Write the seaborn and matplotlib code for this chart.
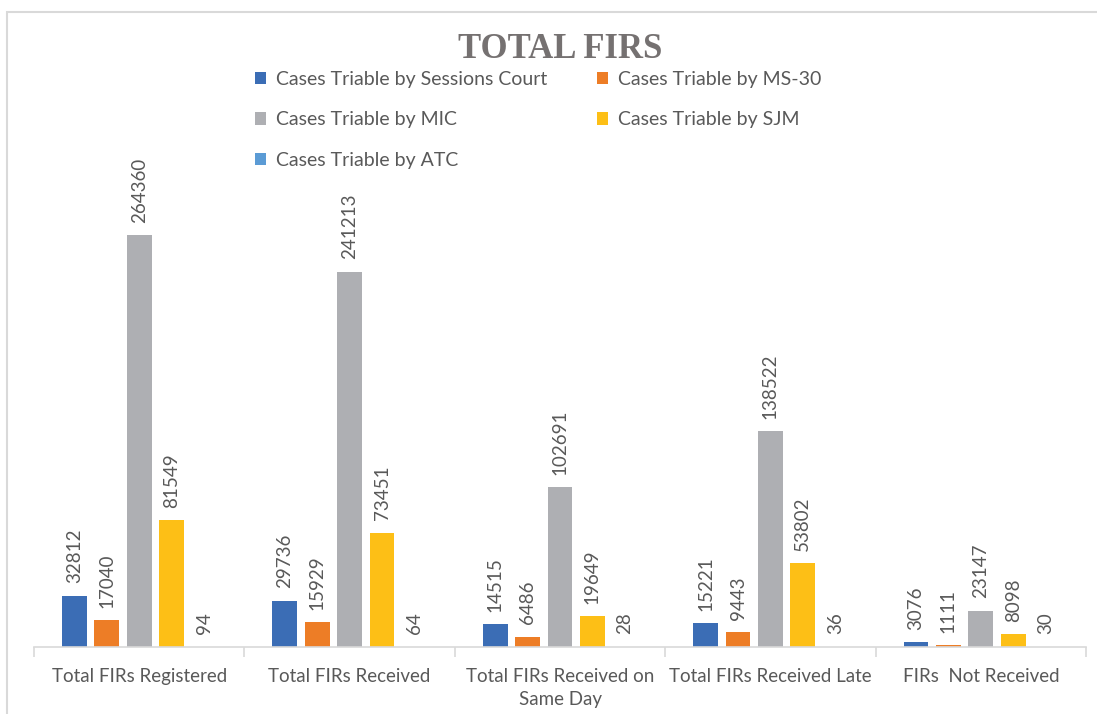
import pandas as pd
import matplotlib.pyplot as plt
import seaborn as sns
from matplotlib.patches import Rectangle

categories = [
    "Total FIRs Registered",
    "Total FIRs Received",
    "Total FIRs Received on\nSame Day",
    "Total FIRs Received Late",
    "FIRs  Not Received",
]
series = [
    "Cases Triable by Sessions Court",
    "Cases Triable by MS-30",
    "Cases Triable by MIC",
    "Cases Triable by SJM",
    "Cases Triable by ATC",
]
sessions_court = [32812, 29736, 14515, 15221, 3076]
ms30 = [17040, 15929, 6486, 9443, 1111]
mic = [264360, 241213, 102691, 138522, 23147]
sjm = [81549, 73451, 19649, 53802, 8098]
atc = [94, 64, 28, 36, 30]

colors = ["#3B6DB5", "#ED7D26", "#AEAFB3", "#FDBF16", "#5B9BD5"]

rows = []
for name, vals in zip(series, [sessions_court, ms30, mic, sjm, atc]):
    for cat, v in zip(categories, vals):
        rows.append({"category": cat, "series": name, "value": v})
df = pd.DataFrame(rows)

sns.set_style("white")
plt.rcParams["font.family"] = ["Lato", "DejaVu Sans"]

fig = plt.figure(figsize=(10.97, 7.14), dpi=100)
ax = fig.add_axes([0.031, 0.0938, 0.959, 0.6541])

sns.barplot(data=df, x="category", y="value", hue="series", palette=colors,
            width=0.77, gap=0.23, ax=ax, saturation=1, linewidth=0)

text_color = "#595959"
for cont in ax.containers:
    ax.bar_label(cont, rotation=90, padding=9, color=text_color, fontsize=13.5)

ax.set_ylim(0, 300000)
ax.set_xlim(-0.5, 4.5)
ax.set_xlabel("")
ax.set_ylabel("")
ax.set_yticks([])
for s in ["top", "right", "left"]:
    ax.spines[s].set_visible(False)
ax.spines["bottom"].set_color("#d9d9d9")
ax.spines["bottom"].set_linewidth(1.2)
ax.set_xticks(range(len(categories)))
ax.set_xticklabels(categories, fontsize=13.5, color=text_color, linespacing=1.45)
ax.set_xticks([i - 0.5 for i in range(len(categories) + 1)], minor=True)
ax.tick_params(axis="x", which="major", length=0, pad=15)
ax.tick_params(axis="x", which="minor", length=7, color="#d9d9d9", width=1.2,
               direction="out", bottom=True)

# legend filled row by row: reorder for matplotlib's column-wise fill
handles, labels = ax.get_legend_handles_labels()
order = [0, 2, 4, 1, 3]
ax.legend([handles[i] for i in order], [labels[i] for i in order], ncol=2,
          loc="center", bbox_to_anchor=(538 / 1097, 1 - 120 / 714),
          bbox_transform=fig.transFigure, frameon=False, fontsize=14,
          labelcolor=text_color, handlelength=0.6, handleheight=0.6,
          handletextpad=0.5, labelspacing=1.2, columnspacing=2.55)

fig.text(560 / 1097, 1 - 50 / 714, "TOTAL FIRS", ha="center", va="center",
         fontsize=25, fontweight="bold", color="#757171", family="Liberation Serif")

fig.add_artist(Rectangle((7 / 1097, -0.1), 1.2, 1 - 12 / 714 + 0.1,
                         transform=fig.transFigure, fill=False,
                         edgecolor="#d9d9d9", linewidth=1.5))

fig.savefig("out.png", dpi=100, facecolor="white")
